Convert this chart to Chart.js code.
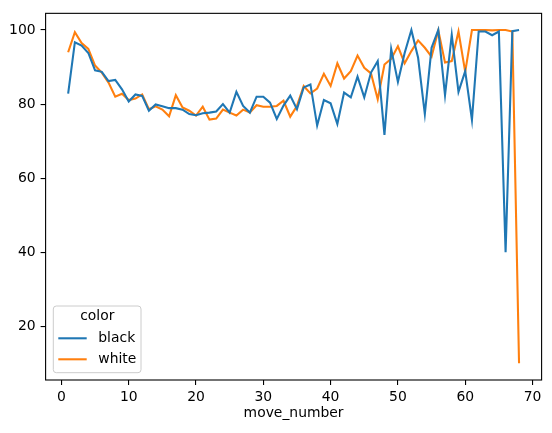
<!DOCTYPE html>
<html>
<head>
<meta charset="utf-8">
<script src="https://cdn.jsdelivr.net/npm/chart.js@4.4.0/dist/chart.umd.min.js"></script>
<style>
  html, body { margin: 0; padding: 0; background: #fff; }
  #wrap { width: 552px; height: 433px; }
</style>
</head>
<body>
<div id="wrap"><canvas id="chart" width="552" height="433"></canvas></div>
<script>
// === Data ====================================================================
const moveNumbers = [
  1, 2, 3, 4, 5, 6, 7, 8, 9, 10, 11, 12, 13, 14, 15, 16, 17, 18, 19, 20,
  21, 22, 23, 24, 25, 26, 27, 28, 29, 30, 31, 32, 33, 34, 35, 36, 37, 38, 39, 40,
  41, 42, 43, 44, 45, 46, 47, 48, 49, 50, 51, 52, 53, 54, 55, 56, 57, 58, 59, 60,
  61, 62, 63, 64, 65, 66, 67, 68
];
const blackValues = [
  82.8, 96.7, 95.8, 93.8, 89.1, 88.7, 86.2, 86.5, 84.0, 80.7,
  82.6, 82.2, 78.2, 79.9, 79.4, 78.9, 78.9, 78.5, 77.3, 77.0,
  77.5, 77.7, 78.0, 80.0, 77.7, 83.3, 79.5, 77.7, 82.0, 82.0,
  80.4, 76.0, 79.6, 82.3, 78.6, 84.5, 85.3, 74.2, 81.1, 80.2,
  74.6, 83.1, 81.8, 87.4, 81.8, 88.5, 91.6, 71.7, 94.9, 86.0,
  93.8, 100.0, 92.5, 77.3, 95.2, 100.0, 82.4, 98.7, 83.3, 88.9,
  75.7, 99.6, 99.6, 98.6, 99.6, 40.0, 99.7, 100.0
];
const whiteValues = [
  94.0, 99.4, 96.5, 94.9, 90.4, 88.5, 85.8, 82.0, 82.8, 81.1,
  81.5, 82.6, 78.6, 79.4, 78.5, 76.7, 82.4, 79.1, 78.2, 76.9,
  79.3, 75.8, 76.1, 78.5, 77.7, 76.9, 78.5, 77.7, 79.7, 79.3,
  79.3, 79.5, 80.9, 76.6, 79.5, 84.9, 82.9, 84.2, 88.2, 84.9,
  91.0, 86.9, 88.9, 93.1, 89.8, 88.3, 81.3, 90.7, 92.2, 95.6,
  91.0, 94.3, 97.2, 95.2, 92.8, 99.9, 91.2, 91.6, 99.6, 88.7,
  100.0, 100.0, 100.0, 99.9, 100.0, 100.0, 99.6, 10.0
];
const seriesNames = ["black", "white"];
const seriesColors = ["#1f77b4", "#ff7f0e"];
const xTicks = [0, 10, 20, 30, 40, 50, 60, 70];
const yTicks = [20, 40, 60, 80, 100];

const FONT = { family: "'DejaVu Sans', sans-serif", size: 13.9 };

// === Plugins: white background, axes frame, legend box =======================
const bgPlugin = {
  id: "bg",
  beforeDraw(chart) {
    const ctx = chart.ctx;
    ctx.save();
    ctx.fillStyle = "#fff";
    ctx.fillRect(0, 0, chart.width, chart.height);
    ctx.restore();
  },
};

const framePlugin = {
  id: "frame",
  afterDraw(chart) {
    const { left, top, right, bottom } = chart.chartArea;
    const ctx = chart.ctx;
    ctx.save();
    ctx.strokeStyle = "#000";
    ctx.lineWidth = 1.1;
    ctx.strokeRect(left, top, right - left, bottom - top);
    ctx.restore();
  },
};

const legendPlugin = {
  id: "mplLegend",
  afterDraw(chart) {
    const ctx = chart.ctx;
    const bx = chart.chartArea.left + 7.7, bw = 87.7, bh = 66.7;
    const by = chart.chartArea.bottom - 7.3 - bh;
    ctx.save();
    ctx.beginPath();
    ctx.roundRect(bx, by, bw, bh, 3);
    ctx.fillStyle = "rgba(255,255,255,0.8)";
    ctx.fill();
    ctx.strokeStyle = "#cccccc";
    ctx.lineWidth = 1;
    ctx.stroke();

    ctx.font = `${FONT.size}px ${FONT.family}`;
    ctx.fillStyle = "#000";
    ctx.textBaseline = "middle";
    ctx.textAlign = "center";
    ctx.fillText("color", bx + 44, by + 10.7);

    ctx.textAlign = "left";
    chart.data.datasets.forEach((ds, i) => {
      const y = by + 32.3 + i * 21;
      ctx.beginPath();
      ctx.moveTo(bx + 5, y);
      ctx.lineTo(bx + 33.4, y);
      ctx.strokeStyle = ds.borderColor;
      ctx.lineWidth = 2.08;
      ctx.stroke();
      ctx.fillText(ds.label, bx + 45, y);
    });
    ctx.restore();
  },
};

// === Chart ===================================================================
function makeSeries(values) {
  return moveNumbers.map((m, i) => ({ x: m, y: values[i] }));
}

new Chart(document.getElementById("chart"), {
  type: "line",
  data: {
    datasets: [
      {
        label: seriesNames[0],
        data: makeSeries(blackValues),
        borderColor: seriesColors[0],
        backgroundColor: seriesColors[0],
        borderWidth: 2.08,
        pointRadius: 0,
        tension: 0,
        fill: false,
      },
      {
        label: seriesNames[1],
        data: makeSeries(whiteValues),
        borderColor: seriesColors[1],
        backgroundColor: seriesColors[1],
        borderWidth: 2.08,
        pointRadius: 0,
        tension: 0,
        fill: false,
      },
    ],
  },
  options: {
    responsive: false,
    animation: false,
    layout: { padding: { left: 0, top: 10, right: 10.4, bottom: 0 } },
    plugins: {
      legend: { display: false },
      tooltip: { enabled: false },
    },
    scales: {
      x: {
        type: "linear",
        min: -2.35,
        max: 71.35,
        afterBuildTicks: (s) => { s.ticks = xTicks.map((v) => ({ value: v })); },
        afterFit: (s) => { s.height = 53; },
        grid: { drawOnChartArea: false, drawTicks: true, tickLength: 5, color: "#000", lineWidth: 1.1 },
        border: { display: false },
        ticks: { font: FONT, color: "#000", padding: 4, maxRotation: 0, autoSkip: false },
        title: {
          display: true,
          text: "move_number",
          font: FONT,
          color: "#000",
          padding: { top: 0, bottom: 11.6 },
        },
      },
      y: {
        type: "linear",
        min: 5.5,
        max: 104.5,
        afterBuildTicks: (s) => { s.ticks = yTicks.map((v) => ({ value: v })); },
        afterFit: (s) => { s.width = 45.6; },
        grid: { drawOnChartArea: false, drawTicks: true, tickLength: 5, color: "#000", lineWidth: 1.1 },
        border: { display: false },
        ticks: { font: FONT, color: "#000", padding: 5, autoSkip: false },
      },
    },
  },
  plugins: [bgPlugin, framePlugin, legendPlugin],
});
</script>
</body>
</html>
